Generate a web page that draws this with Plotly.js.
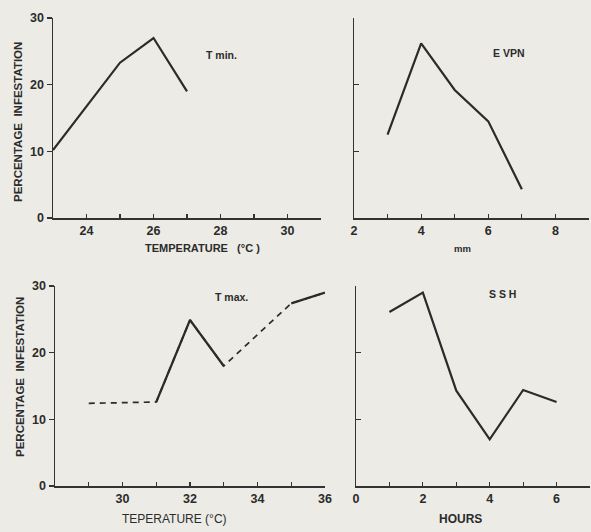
<!DOCTYPE html>
<html><head><meta charset="utf-8">
<script src="https://cdn.plot.ly/plotly-3.0.1.min.js"></script>
<style>html,body{margin:0;padding:0;background:#ecebe6;}</style>
</head><body><div id="chart" style="width:591px;height:532px;"></div>
<script>
// ---- data ----
const tminX = [23, 24, 25, 26, 27];
const tminY = [10.2, 16.8, 23.3, 27.0, 19.0];
const evpnX = [3, 4, 5, 6, 7];
const evpnY = [12.5, 26.2, 19.2, 14.5, 4.3];
const tmaxX = [29, 30, 31, 32, 33, 34, 35, 36];
const tmaxY = [12.4, null, 12.6, 24.9, 18.0, null, 27.4, 29.0];
const sshX = [1, 2, 3, 4, 5, 6];
const sshY = [26.1, 29.0, 14.3, 7.0, 14.4, 12.6];

// ---- tick labels ----
const yTickVals = [0, 10, 20, 30];
const yTickText = ['0', '10', '20', '30'];
const tminTickVals = [23, 24, 25, 26, 27, 28, 29, 30];
const tminTickText = ['', '24', '', '26', '', '28', '', '30'];
const evpnTickVals = [2, 3, 4, 5, 6, 7, 8];
const evpnTickText = ['2', '', '4', '', '6', '', '8'];
const tmaxTickVals = [29, 30, 31, 32, 33, 34, 35, 36];
const tmaxTickText = ['', '30', '', '32', '', '34', '', '36'];
const sshTickVals = [0, 1, 2, 3, 4, 5, 6];
const sshTickText = ['0', '', '2', '', '4', '', '6'];

// ---- texts ----
const yTitle = 'PERCENTAGE  INFESTATION';
const panelLabels = ['T min.', 'E VPN', 'T max.', 'S S H'];
const xTitles = ['TEMPERATURE   (°C )', 'mm', 'TEPERATURE (°C)', 'HOURS'];

const W = 591, H = 532;
const px = x => x / W, py = y => 1 - y / H;
const ink = '#2b2b2b';
const lineStyle = {color: ink, width: 2.2};

const tmaxDX = tmaxX.filter((x, i) => tmaxY[i] !== null);
const tmaxDY = tmaxY.filter(v => v !== null);

const traces = [
  {x: tminX, y: tminY, xaxis: 'x', yaxis: 'y', mode: 'lines', line: lineStyle},
  {x: evpnX, y: evpnY, xaxis: 'x2', yaxis: 'y2', mode: 'lines', line: lineStyle},
  {x: tmaxDX, y: tmaxDY, xaxis: 'x3', yaxis: 'y3', mode: 'lines', line: {color: ink, width: 1.7, dash: '6px,5px'}},
  {x: tmaxX, y: tmaxY, xaxis: 'x3', yaxis: 'y3', mode: 'lines', connectgaps: false, line: lineStyle},
  {x: sshX, y: sshY, xaxis: 'x4', yaxis: 'y4', mode: 'lines', line: lineStyle}
];

const tickFont = {family: 'Liberation Sans, Arial, sans-serif', size: 12.5, color: ink, weight: 'bold'};
function xa(anchor, domain, range, vals, text) {
  return {anchor, domain, range, tickmode: 'array', tickvals: vals, ticktext: text,
    showline: true, linecolor: '#333', linewidth: 1.5, showgrid: false, zeroline: false,
    ticks: 'inside', ticklen: 4, tickwidth: 1.2, tickcolor: '#333', tickfont: tickFont, fixedrange: true};
}
function ya(anchor, domain, labels, tickside) {
  return {anchor, domain, range: [0, 30], tickmode: 'array', tickvals: yTickVals,
    ticktext: labels ? yTickText : yTickVals.map(() => ''),
    showline: true, linecolor: '#333', linewidth: 1.5, showgrid: false, zeroline: false,
    ticks: tickside, ticklen: 5, tickwidth: 1.2, tickcolor: '#333', tickfont: tickFont, fixedrange: true};
}

const topY = [py(218), py(18)], botY = [py(486), py(286)];
const layout = {
  width: W, height: H, showlegend: false,
  margin: {l: 0, r: 0, t: 0, b: 0},
  paper_bgcolor: '#ecebe6', plot_bgcolor: 'rgba(0,0,0,0)',
  xaxis: xa('y', [px(53), px(321)], [23, 31], tminTickVals, tminTickText),
  yaxis: ya('x', topY, true, 'outside'),
  xaxis2: xa('y2', [px(354), px(589)], [2, 9], evpnTickVals, evpnTickText),
  yaxis2: ya('x2', topY, false, 'inside'),
  xaxis3: xa('y3', [px(55), px(325)], [28, 36], tmaxTickVals, tmaxTickText),
  yaxis3: ya('x3', botY, true, 'outside'),
  xaxis4: xa('y4', [px(356), px(590)], [0, 7], sshTickVals, sshTickText),
  yaxis4: ya('x4', botY, false, 'inside'),
  annotations: []
};
const annFont = (s, w) => ({family: 'Liberation Sans, Arial, sans-serif', size: s, color: ink, weight: w || 'bold'});
function ann(text, x, y, size, angle, weight) {
  layout.annotations.push({text, x: px(x), y: py(y), xref: 'paper', yref: 'paper',
    showarrow: false, xanchor: 'center', yanchor: 'middle', textangle: angle || 0, font: annFont(size, weight)});
}
ann(yTitle, 18, 122, 11.5, -90);
ann(yTitle, 20, 377, 11.5, -90);
ann(panelLabels[0], 221, 55, 10.5);
ann(panelLabels[1], 509, 53, 10.5);
ann(panelLabels[2], 232, 297, 10.5);
ann(panelLabels[3], 502, 294, 10.5);
ann(xTitles[0], 202, 248, 11);
ann(xTitles[1], 462, 248, 9.5);
ann(xTitles[2], 174, 519, 12, 0, 'normal');
ann(xTitles[3], 460, 519, 12);

Plotly.newPlot('chart', traces, layout, {staticPlot: true, displayModeBar: false});
</script></body></html>
